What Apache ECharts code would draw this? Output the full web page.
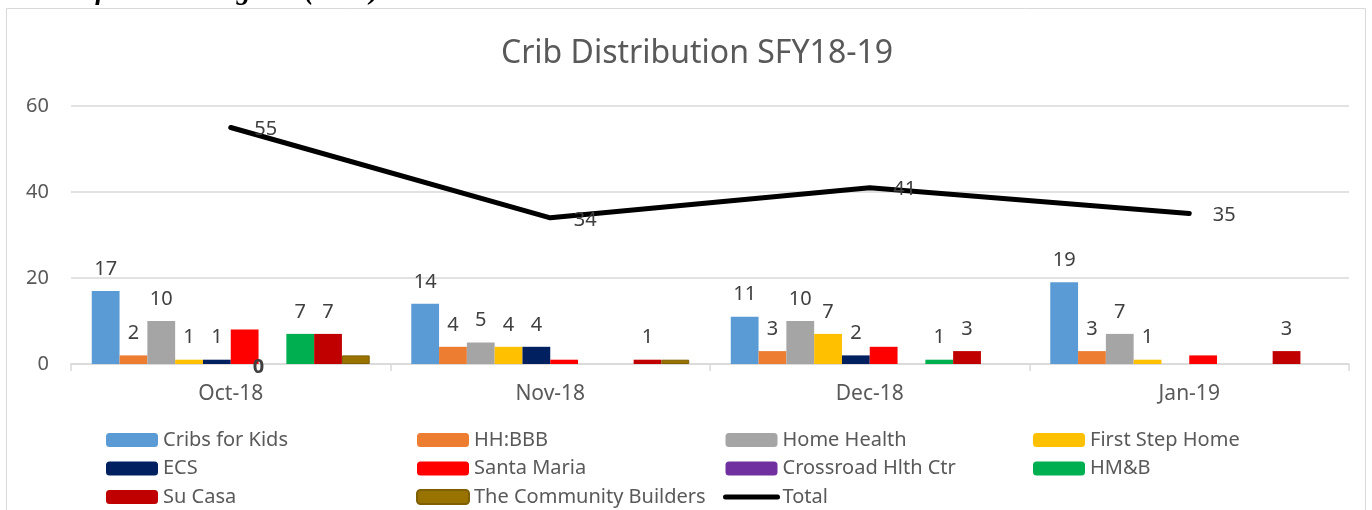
<!DOCTYPE html>
<html>
<head>
<meta charset="utf-8">
<script src="https://cdn.jsdelivr.net/npm/echarts@6/dist/echarts.min.js"></script>
<style>
  html, body { margin: 0; padding: 0; background: #fff; }
  #chart { width: 1372px; height: 510px; }
</style>
</head>
<body>
<div id="chart"></div>
<script>
// categories (months)
const months = ['Oct-18', 'Nov-18', 'Dec-18', 'Jan-19'];

// series values, null = blank cell (no bar, no label)
const cribsForKids   = [17, 14, 11, 19];
const hhBbb          = [2, 4, 3, 3];
const homeHealth     = [10, 5, 10, 7];
const firstStepHome  = [1, 4, 7, 1];
const ecs            = [1, 4, 2, null];
const santaMaria     = [8, 1, 4, 2];
const crossroad      = [0, null, null, null];
const hmb            = [7, null, 1, null];
const suCasa         = [7, 1, 3, 3];
const communityBuild = [2, 1, null, null];
const totals         = [55, 34, 41, 35];

const yTicks = [0, 20, 40, 60];

const textColor = '#595959';
const labelColor = '#404040';
const font = "'Noto Sans', sans-serif";

// 1. 实例化
let myChart = echarts.init(document.getElementById('chart'));

// 柱子系列
function barSeries(name, data, color, showLabel, extra) {
  let s = {
    name: name,
    type: 'bar',
    data: data,
    barGap: '0%',
    barCategoryGap: '13%',
    itemStyle: { color: color },
    label: {
      show: showLabel,
      position: 'top',
      distance: 12,
      color: labelColor,
      fontSize: 20,
      fontFamily: font
    }
  };
  return Object.assign(s, extra || {});
}

let option = {
  animation: false,
  title: {
    text: 'Crib Distribution SFY18-19',
    left: 692,
    textAlign: 'center',
    top: 33,
    textStyle: { color: textColor, fontSize: 32, fontWeight: 'normal', fontFamily: font }
  },
  graphic: [
    {
      type: 'rect',
      shape: { x: 6.5, y: 8.5, width: 1359, height: 520 },
      style: { fill: 'none', stroke: '#d9d9d9', lineWidth: 1 },
      silent: true
    },
    {
      type: 'text',
      x: 26,
      y: 6,
      style: {
        text: 'Cribs for Kids Program (CFK) \u2013 Cribs Distributed',
        fill: '#000',
        font: 'italic bold 28px "Liberation Serif", serif',
        verticalAlign: 'bottom'
      },
      silent: true
    }
  ],
  grid: { left: 71, right: 23, top: 106, bottom: 146 },
  legend: [
    { names: ['Cribs for Kids', 'ECS', 'Su Casa'], left: 106 },
    { names: ['HH:BBB', 'Santa Maria', 'The Community Builders'], left: 416 },
    { names: ['Home Health', 'Crossroad Hlth Ctr',
              { name: 'Total', itemStyle: { opacity: 0 }, lineStyle: { width: 5 } }], left: 723 },
    { names: ['First Step Home', 'HM&B'], left: 1033 }
  ].map(l => ({
    data: l.names,
    left: l.left,
    top: 430,
    height: 80,
    padding: 0,
    orient: 'vertical',
    itemWidth: 52,
    itemHeight: 14,
    itemGap: 8.5,
    selectedMode: false,
    textStyle: { color: textColor, fontSize: 20, fontFamily: font, lineHeight: 20 }
  })),
  xAxis: {
    type: 'category',
    data: months,
    axisLine: { lineStyle: { color: '#d9d9d9', width: 1.5 } },
    axisTick: { show: true, length: 7, lineStyle: { color: '#d9d9d9', width: 1.5 } },
    axisLabel: { color: textColor, fontSize: 21, fontFamily: font, margin: 20 }
  },
  yAxis: {
    type: 'value',
    min: yTicks[0],
    max: yTicks[yTicks.length - 1],
    interval: 20,
    axisLine: { show: false },
    axisTick: { show: false },
    axisLabel: { color: textColor, fontSize: 20, fontFamily: font, margin: 22 },
    splitLine: { lineStyle: { color: '#d9d9d9', width: 1.5 } }
  },
  series: [
    barSeries('Cribs for Kids', cribsForKids, '#5B9BD5', true),
    barSeries('HH:BBB', hhBbb, '#ED7D31', true),
    barSeries('Home Health', homeHealth, '#A5A5A5', true),
    barSeries('First Step Home', firstStepHome, '#FFC000', true),
    barSeries('ECS', ecs, '#002060', true),
    barSeries('Santa Maria', santaMaria, '#FF0000', false),
    barSeries('Crossroad Hlth Ctr', crossroad, '#7030A0', true, {
      label: {
        show: true, position: 'inside', offset: [-14, 3],
        color: labelColor, fontSize: 20, fontWeight: 'bold', fontFamily: font
      }
    }),
    barSeries('HM&B', hmb, '#00B050', true),
    barSeries('Su Casa', suCasa, '#C00000', true),
    barSeries('The Community Builders', communityBuild, '#997300', false, {
      itemStyle: { color: '#997300', borderColor: '#7f6000', borderWidth: 1 }
    }),
    {
      name: 'Total',
      type: 'line',
      data: totals,
      symbol: 'circle',
      symbolSize: 1,
      lineStyle: { color: '#000', width: 5, cap: 'round' },
      itemStyle: { color: '#000' },
      label: {
        show: true,
        position: 'right',
        distance: 23,
        offset: [0, 2],
        color: labelColor,
        fontSize: 20,
        fontFamily: font
      },
      z: 5
    }
  ]
};

myChart.setOption(option);
window.addEventListener('resize', function () {
  myChart.resize();
});
</script>
</body>
</html>
